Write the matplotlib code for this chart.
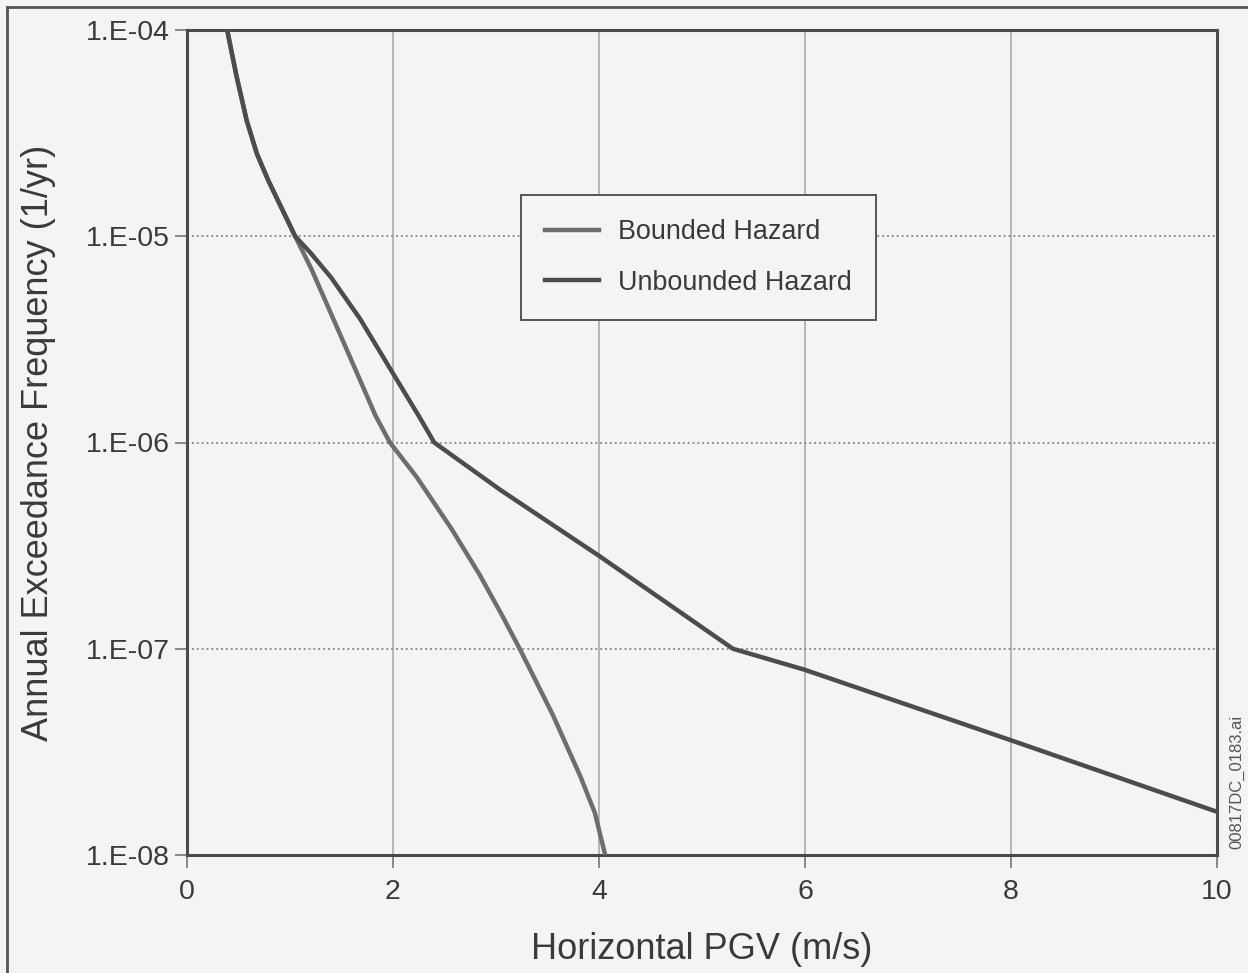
#%% Annual exceedance frequency vs horizontal PGV
# bounded vs unbounded hazard curves
import numpy as np
import matplotlib.pyplot as plt
from matplotlib.ticker import FixedLocator, FuncFormatter, NullLocator
from matplotlib.lines import Line2D

plt.rcParams['font.family'] = ['Liberation Sans', 'DejaVu Sans']

# PGV (m/s) and exceedance frequency (1/yr)
bounded_pgv = [0.39, 0.48, 0.58, 0.68, 0.79, 1.05, 1.21, 1.42, 1.63, 1.83, 1.97, 2.23, 2.57,
               2.84, 3.05, 3.23, 3.55, 3.82, 3.96, 4.06]
bounded_freq = [1e-4, 6.0e-5, 3.63e-5, 2.5e-5, 1.86e-5, 1.0e-5, 6.9e-6, 3.98e-6, 2.29e-6,
                1.35e-6, 1.0e-6, 6.8e-7, 3.8e-7, 2.29e-7, 1.48e-7, 1.0e-7, 4.8e-8, 2.4e-8,
                1.6e-8, 1.0e-8]

unbounded_pgv = [0.39, 0.48, 0.58, 0.68, 0.79, 1.05, 1.20, 1.40, 1.68, 1.97, 2.26, 2.40,
                 3.04, 4.01, 5.30, 6.0, 8.0, 10.0]
unbounded_freq = [1e-4, 6.0e-5, 3.63e-5, 2.5e-5, 1.86e-5, 1.0e-5, 8.3e-6, 6.3e-6, 3.98e-6,
                  2.29e-6, 1.32e-6, 1.0e-6, 5.9e-7, 2.8e-7, 1.0e-7, 7.9e-8, 3.6e-8, 1.62e-8]

xticks = [0, 2, 4, 6, 8, 10]
yticks = [1e-8, 1e-7, 1e-6, 1e-5, 1e-4]

bg = '#f4f4f2'
fig = plt.figure(figsize=(12.48, 9.73), dpi=100, facecolor=bg)
ax = fig.add_axes([187/1248, 1-855/973, 1030/1248, 825/973])
ax.set_facecolor(bg)

# grid: solid verticals, dotted horizontals
for xv in xticks[1:-1]:
    ax.axvline(xv, color='#ababab', lw=1.2, zorder=1)
for yv in yticks[1:-1]:
    ax.axhline(yv, color='#909090', lw=1.4, ls=(0, (1, 1.5)), zorder=1)

ax.plot(bounded_pgv, bounded_freq, color='#6e6e6e', lw=3.2, zorder=3,
        solid_capstyle='butt', solid_joinstyle='round')
ax.plot(unbounded_pgv, unbounded_freq, color='#4c4c4c', lw=3.2, zorder=4,
        solid_capstyle='butt', solid_joinstyle='round')

ax.set_yscale('log')
ax.set_xlim(0, 10)
ax.set_ylim(1e-8, 1e-4)
ax.xaxis.set_major_locator(FixedLocator(xticks))
ax.yaxis.set_major_locator(FixedLocator(yticks))
ax.yaxis.set_minor_locator(NullLocator())
ax.yaxis.set_major_formatter(FuncFormatter(lambda v, p: f"1.E-{int(round(-np.log10(v))):02d}"))
ax.tick_params(axis='both', colors='#777777', labelcolor='#3a3a3a', labelsize=20.5,
               length=9, width=1.2)
ax.tick_params(axis='x', pad=8)
ax.tick_params(axis='y', pad=3)

for s in ax.spines.values():
    s.set_color('#4a4a4a')
    s.set_linewidth(2.2)

ax.set_xlabel('Horizontal PGV (m/s)', fontsize=26, color='#3a3a3a', labelpad=20)
ax.set_ylabel('Annual Exceedance Frequency (1/yr)', fontsize=26, color='#3a3a3a', labelpad=22)

handles = [Line2D([], [], color='#6e6e6e', lw=3.2),
           Line2D([], [], color='#4c4c4c', lw=3.2)]
leg = ax.legend(handles, ['Bounded Hazard', 'Unbounded Hazard'], loc='upper left',
                bbox_to_anchor=(334/1030, 1-165/825), fontsize=19.4, frameon=True,
                fancybox=False, handlelength=2.0, labelspacing=0.9, borderpad=0.9,
                handletextpad=0.7, borderaxespad=0)
leg.get_frame().set_edgecolor('#555555')
leg.get_frame().set_linewidth(1.4)
leg.get_frame().set_facecolor(bg)
leg.get_frame().set_alpha(1)
for t in leg.get_texts():
    t.set_color('#3a3a3a')

# drawing id at the right edge
fig.text(1237/1248, 1-782/973, '00817DC_0183.ai', rotation=90, fontsize=12,
         color='#555555', ha='center', va='center')

# outer frame of the scan
fig.add_artist(Line2D([7/1248, 7/1248], [0, 1-7/973], color='#555555', lw=2))
fig.add_artist(Line2D([7/1248, 1], [1-7/973, 1-7/973], color='#555555', lw=2))

plt.savefig('out.png', dpi=100, facecolor=bg)
plt.close()
